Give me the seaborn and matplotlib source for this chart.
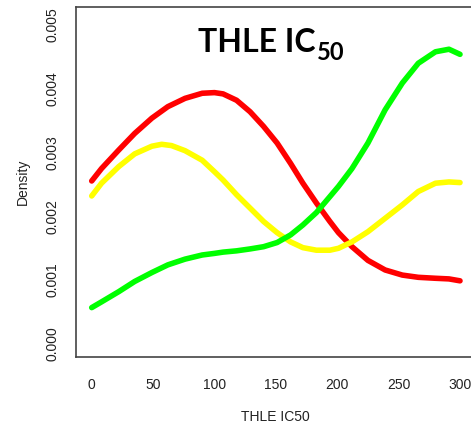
import matplotlib
matplotlib.use("Agg")
import matplotlib.pyplot as plt
import seaborn as sns
import pandas as pd

# Density estimates of THLE IC50, one curve per group (density in units of 1e-3)
red_x = [0, 8, 22, 35, 49, 62, 76, 90, 100, 107, 118, 129, 140, 151, 162, 172,
         183, 194, 201, 212, 225, 239, 253, 266, 280, 291, 300]
red_y = [2.555, 2.75, 3.04, 3.30, 3.54, 3.72, 3.85, 3.93, 3.94, 3.92, 3.82, 3.64,
         3.41, 3.15, 2.83, 2.52, 2.21, 1.92, 1.745, 1.525, 1.31, 1.16, 1.08,
         1.045, 1.03, 1.02, 0.99]

yellow_x = [0, 8, 22, 35, 49, 57, 65, 76, 90, 100, 107, 118, 129, 140, 151, 162,
            172, 183, 194, 201, 212, 225, 239, 253, 266, 280, 291, 300]
yellow_y = [2.32, 2.52, 2.78, 2.98, 3.10, 3.13, 3.11, 3.03, 2.88, 2.70, 2.57,
            2.34, 2.13, 1.92, 1.745, 1.60, 1.51, 1.47, 1.47, 1.50, 1.60, 1.76,
            1.97, 2.18, 2.39, 2.52, 2.54, 2.53]

green_x = [0, 8, 22, 35, 49, 62, 76, 90, 100, 107, 118, 129, 140, 151, 162, 172,
           183, 194, 201, 212, 225, 239, 253, 266, 280, 291, 300]
green_y = [0.57, 0.66, 0.82, 0.98, 1.12, 1.24, 1.33, 1.395, 1.42, 1.44, 1.46,
           1.49, 1.525, 1.59, 1.71, 1.865, 2.06, 2.31, 2.47, 2.75, 3.15, 3.67,
           4.09, 4.40, 4.58, 4.62, 4.54]

groups = ["red", "yellow", "green"]
colors = {"red": "#ff0000", "yellow": "#ffff00", "green": "#00ff00"}

x_ticks = [0, 50, 100, 150, 200, 250, 300]
y_ticks = [0.000, 0.001, 0.002, 0.003, 0.004, 0.005]

frames = []
for name, xs, ys in [("red", red_x, red_y), ("yellow", yellow_x, yellow_y),
                     ("green", green_x, green_y)]:
    frames.append(pd.DataFrame({"ic50": xs,
                                "density": [v / 1000 for v in ys],
                                "group": name}))
df = pd.concat(frames, ignore_index=True)

sns.set_style("white")
plt.rcParams["font.family"] = ["Liberation Sans", "DejaVu Sans"]

W, H = 471, 426
fig = plt.figure(figsize=(W / 100, H / 100), dpi=100)
left, right, top, bottom = 76, 475, 7, 357
ax = fig.add_axes([left / W, 1 - bottom / H, (right - left) / W, (bottom - top) / H])

sns.lineplot(data=df, x="ic50", y="density", hue="group", hue_order=groups,
             palette=colors, sort=False, estimator=None, linewidth=4,
             solid_capstyle="round", solid_joinstyle="round", legend=False, ax=ax)

ax.set_xlim(-12.8, 312.2)
ax.set_ylim(-0.000204, 0.005282)
ax.set_xticks(x_ticks)
ax.set_xticklabels([str(t) for t in x_ticks])
ax.set_yticks(y_ticks)
ax.set_yticklabels([f"{t:.3f}" for t in y_ticks], rotation=90, va="center")
ax.tick_params(axis="both", direction="out", length=6, width=1,
               color="#333333", labelsize=10, labelcolor="#222222")
ax.tick_params(axis="x", pad=9)
ax.tick_params(axis="y", pad=6)
for s in ax.spines.values():
    s.set_color("#444444")
    s.set_linewidth(1.2)
ax.spines["right"].set_visible(False)

ax.set_xlabel("THLE IC50", fontsize=10, color="#222222", labelpad=13)
ax.set_ylabel("Density", fontsize=10, color="#222222", labelpad=11)

# Title with subscript
fig.text(198 / W, 1 - 51.7 / H, "THLE IC", fontsize=23, fontweight="bold",
         family="Lato", color="black", ha="left", va="baseline")
fig.text(317 / W, 1 - 60 / H, "50", fontsize=17, fontweight="bold",
         family="Lato", color="black", ha="left", va="baseline")

fig.savefig("out.png", dpi=100)
